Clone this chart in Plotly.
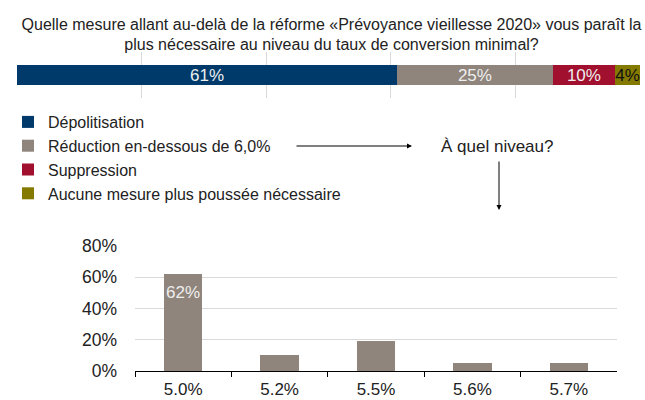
import plotly.graph_objects as go

# --- data ---
title_text = ("Quelle mesure allant au-delà de la réforme «Prévoyance vieillesse 2020» vous paraît la"
              "<br>plus nécessaire au niveau du taux de conversion minimal?")
measures = ["Dépolitisation", "Réduction en-dessous de 6,0%", "Suppression",
            "Aucune mesure plus poussée nécessaire"]
measure_shares = [61, 25, 10, 4]
measure_colors = ["#003A6A", "#8F857C", "#A1102F", "#857A00"]
measure_text_colors = ["#eeeeee", "#eeeeee", "#eeeeee", "#111111"]

levels = ["5.0%", "5.2%", "5.5%", "5.6%", "5.7%"]
level_shares = [62, 10, 19, 5, 5]
level_color = "#8F857C"
y_ticks = [0, 20, 40, 60, 80]
y_ticklabels = ["0%", "20%", "40%", "60%", "80%"]

FONT = "Liberation Sans"
W, H = 645, 400

def px(x):
    return x / W

def py(y):
    return 1 - y / H

fig = go.Figure()

for i, (name, val) in enumerate(zip(measures, measure_shares)):
    fig.add_trace(go.Bar(
        x=[val], y=["q"], orientation="h", name=name,
        marker=dict(color=measure_colors[i], line=dict(width=0)),
        width=0.43,
        text=[f"{val}%"], textposition="inside", insidetextanchor="middle",
        constraintext="none",
        textfont=dict(color=measure_text_colors[i], size=17, family=FONT),
        legendgroup=name,
        xaxis="x", yaxis="y", hoverinfo="skip",
    ))

fig.add_trace(go.Bar(
    x=levels, y=level_shares, marker=dict(color=level_color, line=dict(width=0)),
    width=0.4, showlegend=False, xaxis="x2", yaxis="y2", hoverinfo="skip",
))

fig.add_annotation(
    x=levels[0], y=level_shares[0], xref="x2", yref="y2",
    text=f"{level_shares[0]}%", showarrow=False, yanchor="top", yshift=-7,
    font=dict(color="#eeeeee", size=17, family=FONT),
)

# arrows and side label
fig.add_annotation(x=px(412), y=py(146), xref="paper", yref="paper",
                   ax=-117, ay=0, text="", showarrow=True, arrowhead=2,
                   arrowsize=1, arrowwidth=1, arrowcolor="#000000")
fig.add_annotation(x=px(499), y=py(210), xref="paper", yref="paper",
                   ax=0, ay=-50, text="", showarrow=True, arrowhead=2,
                   arrowsize=1, arrowwidth=1, arrowcolor="#000000")
fig.add_annotation(x=px(497), y=py(146), xref="paper", yref="paper",
                   xanchor="center", yanchor="middle",
                   text="À quel niveau?", showarrow=False,
                   font=dict(size=17, family=FONT, color="#222222"))

fig.update_layout(
    width=W, height=H,
    margin=dict(l=0, r=0, t=0, b=0, autoexpand=False),
    paper_bgcolor="white", plot_bgcolor="white",
    barmode="stack",
    font=dict(family=FONT, size=16, color="#222222"),
    title=dict(text=title_text, x=0.514, xanchor="center", y=py(29.5), yanchor="middle",
               font=dict(size=16, family=FONT, color="#222222")),
    showlegend=True,
    legend=dict(x=px(8), y=py(105), xanchor="left", yanchor="top",
                traceorder="normal", tracegroupgap=6.5, itemwidth=30,
                font=dict(size=16, family=FONT, color="#222222"),
                bgcolor="rgba(0,0,0,0)"),
    xaxis=dict(domain=[px(17), px(640)], range=[0, 100], dtick=20,
               showgrid=True, gridcolor="#d9d9d9", gridwidth=1, automargin=False,
               zeroline=False, showticklabels=False, ticks="", fixedrange=True),
    yaxis=dict(domain=[py(98), py(52)], range=[-0.5, 0.5], automargin=False,
               showgrid=False, zeroline=False, showticklabels=False, ticks=""),
    xaxis2=dict(domain=[px(135), px(617)], anchor="y2", automargin=False,
                showline=True, linecolor="#000000", linewidth=1,
                ticks="outside", tickson="boundaries", ticklen=5,
                ticklabelstandoff=3,
                tickcolor="#000000", tickfont=dict(size=17, family=FONT, color="#222222"),
                showgrid=False),
    yaxis2=dict(domain=[py(371), py(246)], anchor="x2", range=[0, 80], automargin=False,
                tickvals=y_ticks, ticktext=y_ticklabels,
                showgrid=True, gridcolor="#d9d9d9", zeroline=False,
                ticks="", ticklabelstandoff=17,
                tickfont=dict(size=17.5, family=FONT, color="#222222")),
)

fig.write_html("out.html", config={"displayModeBar": False},
               post_script="document.body.style.margin='0';")
